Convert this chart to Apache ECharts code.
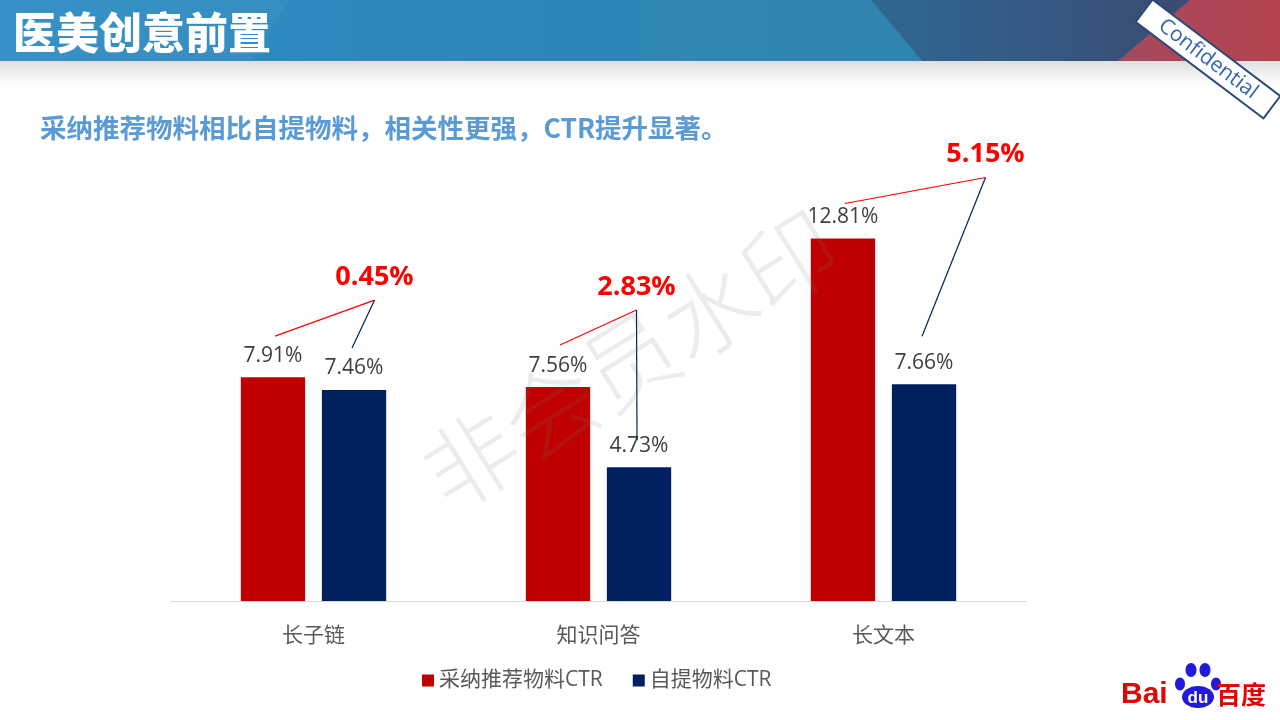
<!DOCTYPE html>
<html><head><meta charset="utf-8">
<script src="https://cdn.jsdelivr.net/npm/echarts@6/dist/echarts.min.js"></script>
<style>html,body{margin:0;padding:0;background:#fff}#c{width:1280px;height:720px}</style>
</head><body><div id="c"></div>
<script>
const categories = ['长子链', '知识问答', '长文本'];
const recommendedCTR = [7.91, 7.56, 12.81];
const selfCTR = [7.46, 4.73, 7.66];
const liftLabels = ['0.45%', '2.83%', '5.15%'];
const seriesNames = ['采纳推荐物料CTR', '自提物料CTR'];

const FONT = '"Open Sans", "Noto Sans CJK SC", "Microsoft YaHei", sans-serif';
const CJK = '"Noto Sans CJK SC", "Microsoft YaHei", sans-serif';
const RED = '#C00000', NAVY = '#002060';
const CAT_GAP = 0.49, BAR_GAP = 0.26;
// callout layout in pixels: peak shift from category centre, peak height above red bar top, gaps above bar tops
const calloutLayout = [
  { dx: 61, up: 77, redGap: 41, blueGap: 42 },
  { dx: 38, up: 77, redGap: 42, blueGap: 27 },
  { dx: 102, up: 61, redGap: 35, blueGap: 48 }
];

const chart = echarts.init(document.getElementById('c'), null, { renderer: 'canvas' });

const lg = (stops, x2 = 1, y2 = 0) => ({ type: 'linear', x: 0, y: 0, x2, y2,
  colorStops: stops.map((c, i) => ({ offset: i / (stops.length - 1), color: c })) });

const graphics = [
  { type: 'rect', shape: { x: 0, y: 0, width: 1280, height: 61 }, style: { fill: lg(['#2f8dc4', '#2d84b6', '#2e7fa8']) }, z: 0 },
  { type: 'polygon', shape: { points: [[0, 0], [290, 0], [250, 61], [0, 61]] }, style: { fill: 'rgba(255,255,255,0.04)' }, z: 1 },
  { type: 'polygon', shape: { points: [[640, 0], [871, 0], [922, 61], [640, 61]] }, style: { fill: 'rgba(60,150,170,0.18)' }, z: 1 },
  { type: 'polygon', shape: { points: [[871, 0], [1190, 0], [1118, 61], [922, 61]] }, style: { fill: lg(['#2f6892', '#345a84', '#3b4a70']) }, z: 1 },
  { type: 'polygon', shape: { points: [[1190, 0], [1280, 0], [1280, 61], [1118, 61]] }, style: { fill: lg(['#a44a5e', '#b4424f']) }, z: 1 },
  { type: 'rect', shape: { x: 0, y: 61, width: 1280, height: 24 }, style: { fill: lg(['#dedede', '#ffffff'], 0, 1) }, z: 0 },
  { type: 'text', x: 13, y: 33, style: { text: '医美创意前置', fill: '#ffffff', font: '900 43px ' + CJK, verticalAlign: 'middle' }, z: 5 },
  { type: 'rect', x: 1208, y: 59, rotation: -37 * Math.PI / 180, shape: { x: -80, y: -14, width: 160, height: 28 }, style: { fill: '#ffffff', stroke: '#2b4a7a', lineWidth: 2 }, z: 20 },
  { type: 'text', x: 1208, y: 59, rotation: -37 * Math.PI / 180, style: { text: 'Confidential', fill: '#3466a8', font: '21px "Open Sans", sans-serif', align: 'center', verticalAlign: 'middle' }, z: 21 },
  { type: 'text', x: 40, y: 128, style: { text: '采纳推荐物料相比自提物料，相关性更强，CTR提升显著。', fill: '#5B9BD5', font: 'bold 26.5px ' + CJK, verticalAlign: 'middle' }, z: 5 },
  { type: 'text', x: 630, y: 360, rotation: 32 * Math.PI / 180, style: { text: '非会员水印', fill: 'rgba(120,120,120,0.14)', font: '300 94px ' + CJK, align: 'center', verticalAlign: 'middle' }, z: 100 },
  // Baidu logo
  { type: 'text', x: 1121, y: 695, style: { text: 'Bai', fill: '#e10602', font: 'bold 30px Arial, "Liberation Sans", sans-serif', verticalAlign: 'middle' }, z: 5 },
  { type: 'ellipse', shape: { cx: 1180, cy: 684, rx: 5, ry: 6.5 }, style: { fill: '#2319dc' }, z: 5 },
  { type: 'ellipse', shape: { cx: 1191, cy: 670, rx: 5.5, ry: 7 }, style: { fill: '#2319dc' }, z: 5 },
  { type: 'ellipse', shape: { cx: 1205, cy: 670, rx: 5.5, ry: 7 }, style: { fill: '#2319dc' }, z: 5 },
  { type: 'ellipse', shape: { cx: 1216, cy: 684, rx: 5, ry: 6.5 }, style: { fill: '#2319dc' }, z: 5 },
  { type: 'ellipse', shape: { cx: 1198, cy: 697, rx: 16, ry: 11 }, style: { fill: '#2319dc' }, z: 5 },
  { type: 'text', x: 1198, y: 698, style: { text: 'du', fill: '#ffffff', font: 'bold 17px Arial, sans-serif', align: 'center', verticalAlign: 'middle' }, z: 6 },
  { type: 'text', x: 1216, y: 694, style: { text: '百度', fill: '#e10602', font: 'bold 25px ' + CJK, verticalAlign: 'middle' }, z: 5 }
];

const option = {
  backgroundColor: '#ffffff',
  animation: false,
  textStyle: { fontFamily: FONT },
  grid: { left: 171, right: 254, top: 204.8, bottom: 119, containLabel: false },
  legend: {
    data: seriesNames, left: 417, top: 665, icon: 'rect', itemWidth: 12, itemHeight: 12, itemGap: 30,
    textStyle: { fontSize: 21, color: '#595959', fontFamily: FONT }
  },
  xAxis: {
    type: 'category', data: categories,
    axisLine: { lineStyle: { color: '#d9d9d9', width: 1 } },
    axisTick: { show: false },
    axisLabel: { fontSize: 21, color: '#595959', margin: 25, fontFamily: FONT }
  },
  yAxis: { type: 'value', min: 0, max: 14, show: false, splitLine: { show: false } },
  graphic: graphics,
  series: [
    {
      name: seriesNames[0], type: 'bar', data: recommendedCTR,
      barCategoryGap: (CAT_GAP * 100) + '%', barGap: (BAR_GAP * 100) + '%',
      itemStyle: { color: RED },
      label: { show: true, position: 'top', distance: 11, fontSize: 21, color: '#404040', fontFamily: FONT, formatter: p => p.value.toFixed(2) + '%' }
    },
    {
      name: seriesNames[1], type: 'bar', data: selfCTR,
      itemStyle: { color: NAVY },
      label: { show: true, position: 'top', distance: 11, fontSize: 21, color: '#404040', fontFamily: FONT, formatter: p => p.value.toFixed(2) + '%' }
    },
    {
      type: 'custom', name: 'lift', silent: true, z: 5,
      data: categories.map((c, i) => [i, recommendedCTR[i], selfCTR[i]]),
      encode: { x: 0, y: [1, 2] },
      renderItem(params, api) {
        const i = api.value(0);
        const band = api.size([1, 0])[0];
        const bw = band * (1 - CAT_GAP) / (2 + BAR_GAP);
        const off = bw * (1 + BAR_GAP) / 2;
        const r = api.coord([i, api.value(1)]);
        const b = api.coord([i, api.value(2)]);
        const L = calloutLayout[i];
        const peak = [r[0] + L.dx, r[1] - L.up];
        const rs = [r[0] - off + 2, r[1] - L.redGap];
        const be = [b[0] + off - 2, b[1] - L.blueGap];
        return { type: 'group', children: [
          { type: 'line', shape: { x1: rs[0], y1: rs[1], x2: peak[0], y2: peak[1] }, style: { stroke: '#FF0000', lineWidth: 1.2 } },
          { type: 'line', shape: { x1: peak[0], y1: peak[1], x2: be[0], y2: be[1] }, style: { stroke: NAVY, lineWidth: 1.2 } },
          { type: 'text', x: peak[0], y: peak[1] - 23, style: { text: liftLabels[i], fill: '#FF0000', font: 'bold 27px ' + FONT, align: 'center', verticalAlign: 'middle' } }
        ] };
      }
    }
  ]
};
chart.setOption(option);
</script>
</body></html>
